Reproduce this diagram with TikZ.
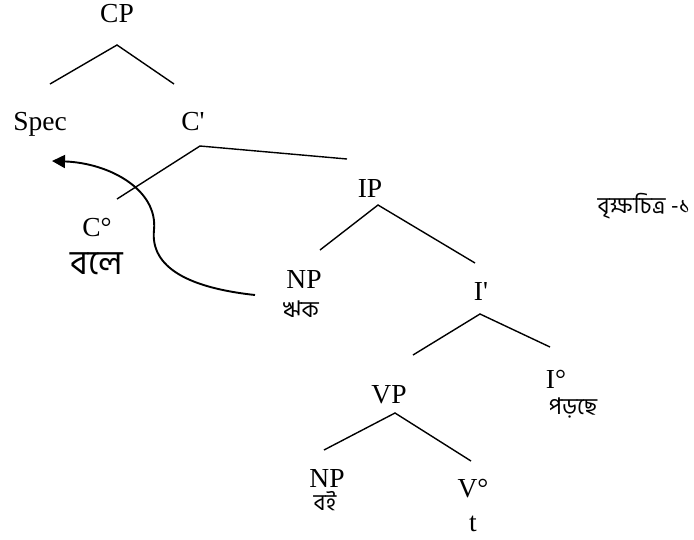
\documentclass[tikz,border=0pt]{standalone}
\usepackage{fontspec}
\setmainfont{Liberation Serif}
\newfontfamily\bn[Script=Bengali]{Hind Siliguri}
\usetikzlibrary{arrows.meta}
\begin{document}
\begin{tikzpicture}[x=1pt,y=-1pt,
  lab/.style={anchor=base,inner sep=0pt,font=\fontsize{27.5}{30}\selectfont},
  bnlab/.style={anchor=base,inner sep=0pt,font=\bn\fontsize{23}{26}\selectfont},
  branch/.style={line width=1.4pt},
  move/.style={line width=1.9pt,-{Triangle[length=13pt,width=13pt]}}]
\useasboundingbox (0,0) rectangle (694,539);
% labels
\node[lab] (CP) at (117,22) {CP};
\node[lab] (Spec) at (40,130) {Spec};
\node[lab] (Cbar) at (193,130) {C\textquotesingle};
\node[lab] (IP) at (370,197) {IP};
\node[lab] (C0) at (97,236) {C°};
\node[anchor=base,inner sep=0pt,font=\bn\fontsize{34}{38}\selectfont] (bole) at (97,274) {বলে};
\node[lab] (NP1) at (304,288) {NP};
\node[bnlab] (rik) at (301,317) {ঋক};
\node[lab] (Ibar) at (481,300) {I\textquotesingle};
\node[lab] (I0) at (556,388) {I°};
\node[bnlab] (porche) at (573,414) {পড়ছে};
\node[lab] (VP) at (389,403) {VP};
\node[lab] (NP2) at (327,487) {NP};
\node[bnlab] (boi) at (325,510) {বই};
\node[lab] (V0) at (473,497) {V°};
\node[lab] (t) at (473,531) {t};
\node[anchor=base,inner sep=0pt,font=\bn\fontsize{23}{26}\selectfont] (title) at (644,213) {বৃক্ষচিত্র -১};
% branch points
\coordinate (cpA) at (117,45);
\coordinate (cpL) at (50,84);
\coordinate (cpR) at (174,84);
\coordinate (cbA) at (200,146);
\coordinate (cbL) at (117,199);
\coordinate (cbR) at (347,159);
\coordinate (ipA) at (378,205);
\coordinate (ipL) at (320,250);
\coordinate (ipR) at (475,263);
\coordinate (ibA) at (480,314);
\coordinate (ibL) at (413,355);
\coordinate (ibR) at (550,347);
\coordinate (vpA) at (395,413);
\coordinate (vpL) at (324,450);
\coordinate (vpR) at (471,461);
\draw[branch] (cpL) -- (cpA) -- (cpR);
\draw[branch] (cbL) -- (cbA) -- (cbR);
\draw[branch] (ipL) -- (ipA) -- (ipR);
\draw[branch] (ibL) -- (ibA) -- (ibR);
\draw[branch] (vpL) -- (vpA) -- (vpR);
% movement arrow
\coordinate (mvS) at (255,295);
\coordinate (mvM) at (154,230);
\coordinate (mvE) at (52,161);
\draw[move] (mvS) .. controls (190,288) and (150,268) .. (mvM)
  .. controls (158,190) and (110,163) .. (mvE);
\end{tikzpicture}
\end{document}
